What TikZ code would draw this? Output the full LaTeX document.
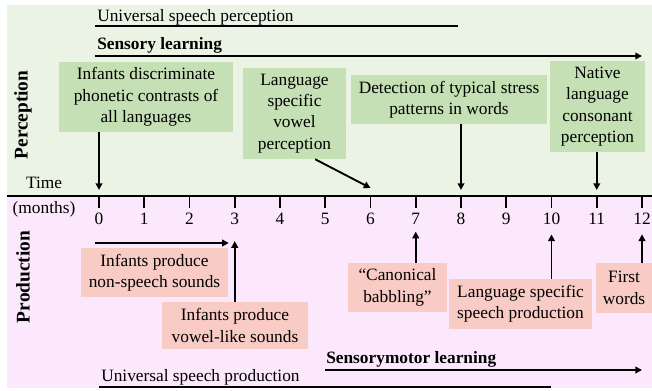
\documentclass[tikz,border=0pt]{standalone}
\usepackage{fontspec}
\setmainfont{Liberation Serif}[Ligatures=TeX]
\usepackage{xcolor}
\definecolor{grbg}{RGB}{235,244,228}
\definecolor{grbox}{RGB}{197,224,180}
\definecolor{pibg}{RGB}{252,232,252}
\definecolor{pibox}{RGB}{248,203,196}
\usepackage{tikz}
\usetikzlibrary{calc,arrows.meta}

\begin{document}
\begin{tikzpicture}[x=0.75pt,y=-0.75pt,line cap=butt,font=\rmfamily\fontsize{13}{16}\selectfont]
	\tikzstyle{bar}=[line width=1.4pt];
	\tikzstyle{arr}=[line width=1.4pt,-{Triangle[length=5pt,width=5pt]}];
	\tikzstyle{gbox}=[fill=grbox,align=center,inner sep=0pt];
	\tikzstyle{pbox}=[fill=pibox,align=center,inner sep=0pt];
	\tikzstyle{num}=[inner sep=1pt];
	\tikzstyle{side}=[rotate=90,font=\rmfamily\fontsize{14.5}{16}\selectfont\bfseries];
	\tikzstyle{head}=[anchor=base west,inner sep=0pt,font=\rmfamily\fontsize{13}{16}\selectfont\bfseries];
	\tikzset{boxsize/.style 2 args={minimum width=#1*0.75pt,minimum height=#2*0.75pt}};
\newcommand{\monthstep}{45.25}
%<--------------------------------------------------------------------------->%

	\useasboundingbox (0,0) rectangle (652,391);
	%% Background
	\fill[grbg] (7,5) rectangle (652,196);
	\fill[pibg] (7,196) rectangle (652,388);
	\draw[bar] (7,196) -- (652,196);
	%% Time axis
	\foreach \m in {0,...,12}{
		\coordinate (m\m) at ({99+\monthstep*\m},196);
		\draw[bar] (m\m) -- ++(0,12);
		\node[num] (n\m) at ({99+\monthstep*\m},219) {\m};
	}
	\node (time) at (44,183) {Time};
	\node (months) at (44,209) {(months)};
	\node[side] (perc) at (23,115) {Perception};
	\node[side] (prod) at (23,277) {Production};
	%% Perception
	\node[anchor=base west,inner sep=0pt] (uperc) at (97,22) {Universal speech perception};
	\coordinate (uperc0) at (95,26);
	\coordinate (uperc1) at (458,26);
	\draw[bar] (uperc0) -- (uperc1);
	\node[head] (sens) at (97,50) {Sensory learning};
	\coordinate (sens0) at (95,56);
	\coordinate (sens1) at (642,56);
	\draw[arr] (sens0) -- (sens1);
	\node[gbox,boxsize={174}{70}] (B1) at (146,97) {Infants discriminate\\phonetic contrasts of\\all languages};
	\node[gbox,boxsize={103}{91}] (B2) at (294.5,113.5) {Language\\specific\\vowel\\perception};
	\node[gbox,boxsize={196}{49}] (B3) at (449,99.5) {Detection of typical stress\\patterns in words};
	\node[gbox,boxsize={95}{91}] (B4) at (597.5,106.5) {Native\\language\\consonant\\perception};
	\draw[arr,shorten >=4.5pt] (B1.south -| m0) -- (m0);
	\draw[arr] ($(B2.south)!0.4!(B2.south east)$) -- ([yshift=6pt]m6);
	\draw[arr,shorten >=4.5pt] (B3.south -| m8) -- (m8);
	\draw[arr,shorten >=4.5pt] (B4.south -| m11) -- (m11);
	%% Production
	\node[pbox,boxsize={147}{49}] (P1) at (154.5,272.5) {Infants produce\\non-speech sounds};
	\node[pbox,boxsize={146}{47}] (P2) at (235,325.5) {Infants produce\\vowel-like sounds};
	\node[pbox,boxsize={99}{49}] (P3) at (397.5,287.5) {“Canonical\\babbling”};
	\node[pbox,boxsize={143}{50}] (P4) at (520.5,304) {Language specific\\speech production};
	\node[pbox,boxsize={56}{50}] (P5) at (624,288) {First\\words};
	\coordinate (ns0) at (95,243);
	\draw[arr,shorten >=4.5pt] (ns0) -- (ns0 -| n3);
	\draw[arr,shorten >=11pt] (P2.north -| n3) -- (n3.south);
	\draw[arr,shorten >=4pt] (P3.north -| n7) -- (n7.south);
	\draw[arr,shorten >=6pt] (P4.north -| n10) -- (n10.south);
	\draw[arr,shorten >=6pt] (P5.north -| n12) -- (n12.south);
	\node[head] (smot) at (326,363) {Sensorymotor learning};
	\coordinate (smot0) at (325,370);
	\coordinate (smot1) at (642,370);
	\draw[arr] (smot0) -- (smot1);
	\node[anchor=base west,inner sep=0pt] (uprod) at (101,381) {Universal speech production};
	\coordinate (uprod0) at (99,387);
	\coordinate (uprod1) at (551,387);
	\draw[bar] (uprod0) -- (uprod1);
\end{tikzpicture}
\end{document}
